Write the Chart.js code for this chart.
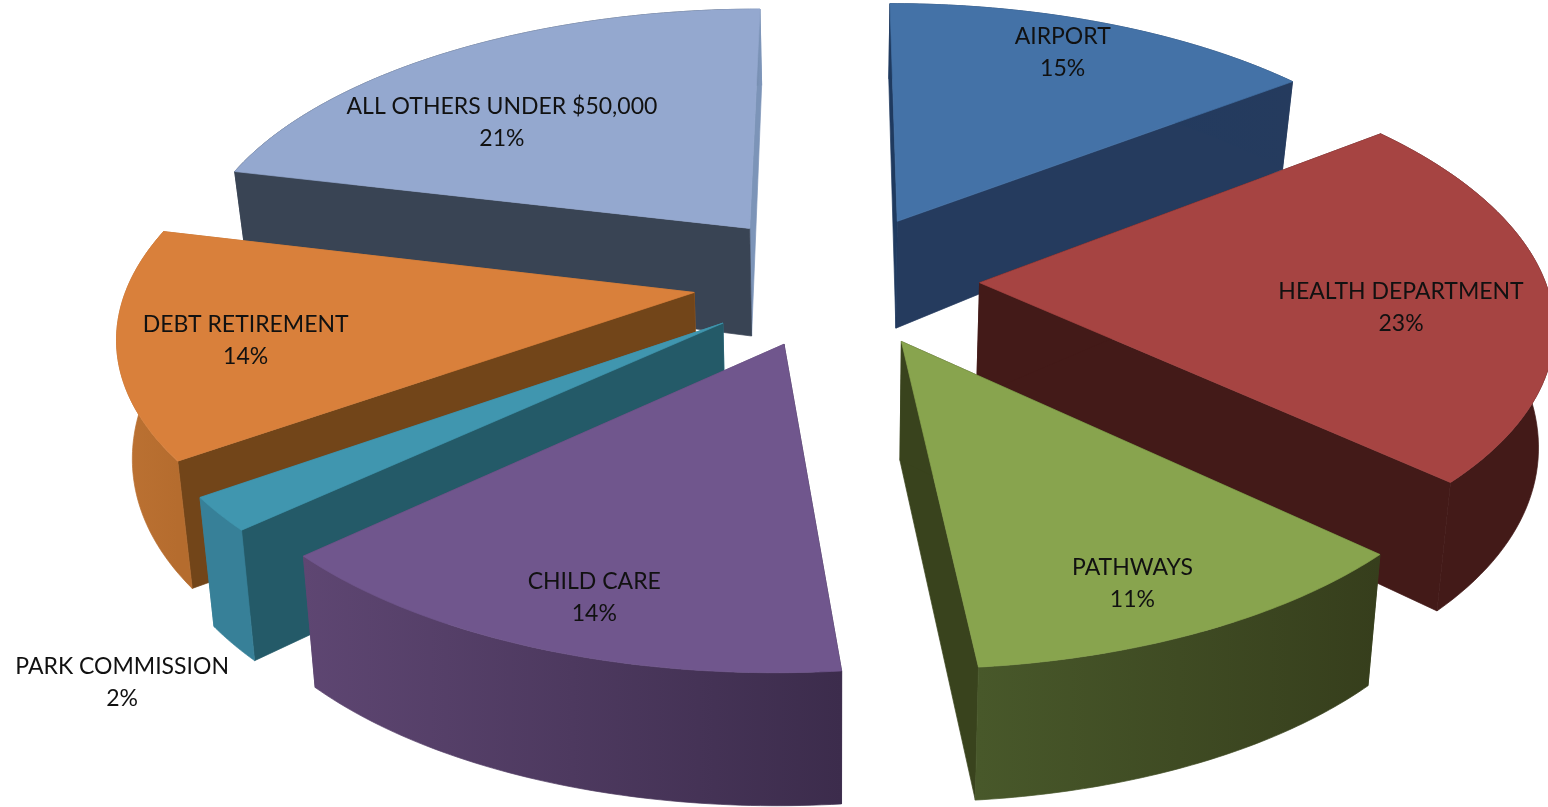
<!DOCTYPE html>
<html>
<head>
<meta charset="utf-8">
<title>Budget share</title>
<script src="https://cdn.jsdelivr.net/npm/chart.js@4"></script>
<style>
  html, body { margin: 0; padding: 0; background: #fff; overflow: hidden; }
  #wrap { width: 1548px; height: 807px; }
</style>
</head>
<body>
<div id="wrap"><canvas id="pie"></canvas></div>
<script>
const categories = ['AIRPORT', 'HEALTH DEPARTMENT', 'PATHWAYS', 'CHILD CARE', 'PARK COMMISSION', 'DEBT RETIREMENT', 'ALL OTHERS UNDER $50,000'];
const shares = [14.51, 22.5, 11.44, 14.49, 2.1, 13.75, 21.21];

const topColors = ['#4472A7', '#A64442', '#88A44E', '#70568D', '#4096AF', '#D9803B', '#94A8CF'];
const startCutColors = ['#1F3A5F', '#431A18', '#39431D', '#3C2C4C', '#245A68', '#724519', '#394454'];
const endCutColors = ['#253B5E', '#431A18', '#39431D', '#5E4672', '#378098', '#BC7233', '#7C94B8'];
const rimLeftColors = ['#1F3A5F', '#431A18', '#48582A', '#5E4672', '#378098', '#BC7233', '#394454'];
const rimRightColors = ['#253B5E', '#431A18', '#363E1C', '#3C2C4C', '#378098', '#B56C2E', '#7C94B8'];
const rimKnees = [0, 0, 0, 0, 0, 0, 0.92];
const labelNudges = [[-5, -8], [-34, 14], [-6, 17], [0, 16], [-208, 207], [11, 5], [-4, 37]];

// camera for the tilted pie, fitted by eye
const view = { cx: 836, cy: 279.5, a: 565, b: 263, k: 0.139, explode: 0.254, shrink: 0.022 };

// pie plane (u right, v towards the back, radius 1) to screen
function project(u, v) {
  const w = 1 + view.k * v;
  return { x: view.cx + view.a * u / w, y: view.cy - view.b * v / w };
}

function slicePoint(mid, t, r) {
  return project(view.explode * Math.sin(mid) + r * Math.sin(t), view.explode * Math.cos(mid) + r * Math.cos(t));
}

// the reference spreads the front left of the rim a little wider
function warp(t) {
  const d = (t - 3.93) / 0.14;
  return t + 0.0105 * Math.exp(-d * d / 2);
}

// walls get taller towards the viewer and lean in slightly
function below(p) {
  const far = (670 - p.y) / 588;
  return { x: p.x - (p.x - view.cx) * view.shrink, y: p.y + 133 - 45 * far * far };
}

function fillPoly(ctx, pts, fill) {
  ctx.beginPath();
  pts.forEach((p, i) => (i ? ctx.lineTo(p.x, p.y) : ctx.moveTo(p.x, p.y)));
  ctx.closePath();
  ctx.fillStyle = fill;
  ctx.strokeStyle = fill;
  ctx.lineWidth = 0.7;
  ctx.fill();
  ctx.stroke();
}

const tiltedPie = {
  id: 'tiltedPie',
  beforeDatasetDraw(chart) {
    const ctx = chart.ctx;
    const arcs = chart.getDatasetMeta(0).data;
    const order = arcs.map((arc, i) => i).sort((a, b) => {
      const midA = (arcs[a].startAngle + arcs[a].endAngle) / 2 + Math.PI / 2;
      const midB = (arcs[b].startAngle + arcs[b].endAngle) / 2 + Math.PI / 2;
      return Math.cos(midB) - Math.cos(midA);
    });

    order.forEach(i => {
      const start = arcs[i].startAngle + Math.PI / 2;
      const end = arcs[i].endAngle + Math.PI / 2;
      const mid = (start + end) / 2;
      const apex = slicePoint(mid, 0, 0);
      const rim = [];
      for (let n = 0; n <= 60; n++) {
        rim.push(slicePoint(mid, warp(start + (end - start) * n / 60), 1));
      }
      const rimLow = rim.map(below);
      const apexLow = below(apex);
      const first = rim[0];
      const last = rim[rim.length - 1];

      fillPoly(ctx, [apex, last, below(last), apexLow], endCutColors[i]);
      fillPoly(ctx, [apex, first, below(first), apexLow], startCutColors[i]);

      const xs = rim.map(p => p.x);
      const grad = ctx.createLinearGradient(Math.min(...xs), 0, Math.max(...xs), 0);
      grad.addColorStop(rimKnees[i], rimLeftColors[i]);
      grad.addColorStop(1, rimRightColors[i]);
      fillPoly(ctx, rim.concat(rimLow.slice().reverse()), grad);

      fillPoly(ctx, [apex].concat(rim), arcs[i].options.backgroundColor);
    });
    return false;
  },
  afterDatasetsDraw(chart) {
    const ctx = chart.ctx;
    const arcs = chart.getDatasetMeta(0).data;
    const total = shares.reduce((a, b) => a + b, 0);
    ctx.save();
    ctx.font = '23px Lato';
    ctx.fillStyle = '#111';
    ctx.textAlign = 'center';
    ctx.textBaseline = 'middle';
    arcs.forEach((arc, i) => {
      const mid = (arc.startAngle + arc.endAngle) / 2 + Math.PI / 2;
      const p = slicePoint(mid, mid, 0.8);
      const x = p.x + labelNudges[i][0];
      const y = p.y + labelNudges[i][1] + 1;
      ctx.fillText(categories[i], x, y - 16);
      ctx.fillText(Math.round(shares[i] / total * 100) + '%', x, y + 16);
    });
    ctx.restore();
  }
};

new Chart(document.getElementById('pie'), {
  type: 'pie',
  data: {
    labels: categories,
    datasets: [{ data: shares, backgroundColor: topColors, borderWidth: 0 }]
  },
  options: {
    responsive: true,
    maintainAspectRatio: false,
    animation: false,
    rotation: 0,
    plugins: { legend: { display: false }, tooltip: { enabled: false } }
  },
  plugins: [tiltedPie]
});
</script>
</body>
</html>
